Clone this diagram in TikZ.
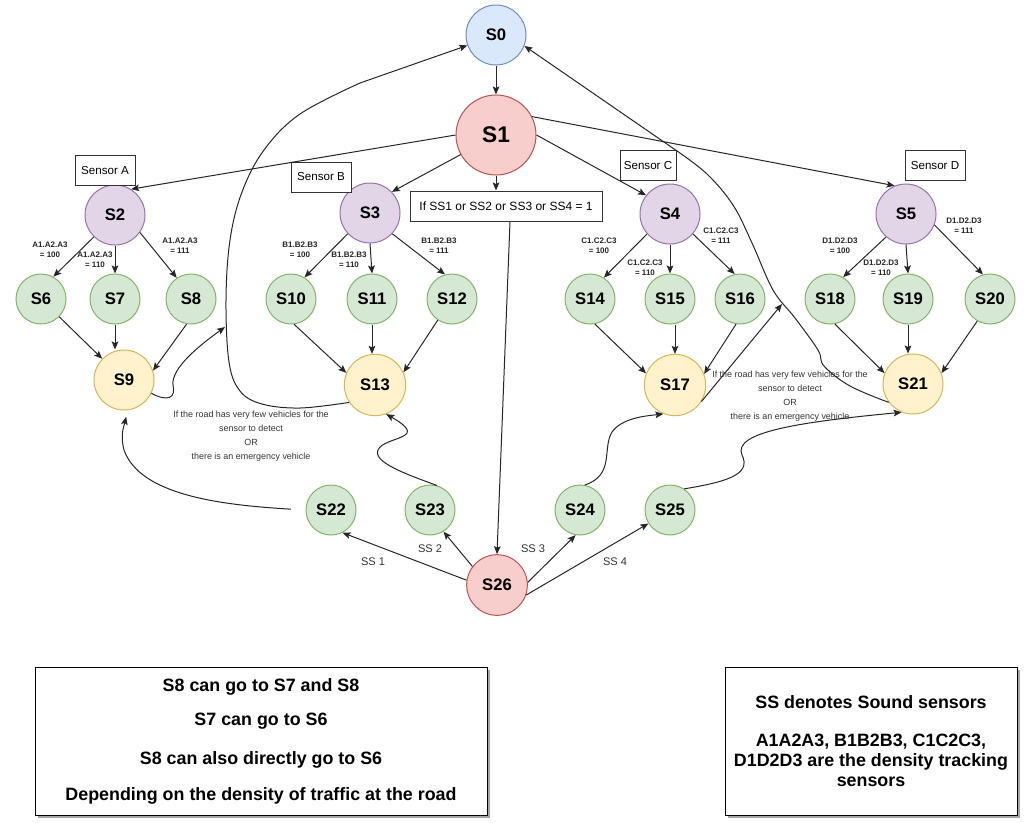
\documentclass[tikz,border=0pt]{standalone}
\usepackage{fontspec}
\setmainfont{Liberation Sans}
\usetikzlibrary{arrows.meta,shadows}
\definecolor{bF}{HTML}{DAE8FC}\definecolor{bD}{HTML}{6C8EBF}
\definecolor{rF}{HTML}{F8CECC}\definecolor{rD}{HTML}{B85450}
\definecolor{pF}{HTML}{E1D5E7}\definecolor{pD}{HTML}{9673A6}
\definecolor{gF}{HTML}{D5E8D4}\definecolor{gD}{HTML}{82B366}
\definecolor{yF}{HTML}{FFF2CC}\definecolor{yD}{HTML}{D6B656}
\tikzset{
 st/.style={circle, line width=0.75pt, inner sep=0pt, font=\bfseries\fontsize{12.5}{14}\selectfont},
 blueN/.style={st, fill=bF, draw=bD, minimum size=45pt},
 redN/.style={st, fill=rF, draw=rD},
 purN/.style={st, fill=pF, draw=pD, minimum size=45pt},
 grnN/.style={st, fill=gF, draw=gD, minimum size=37.5pt},
 yelN/.style={st, fill=yF, draw=yD, minimum size=46pt},
 sbox/.style={draw=black!80, fill=white, line width=0.75pt, inner sep=0pt, minimum height=22.5pt, font=\fontsize{8.7}{10}\selectfont},
 elab/.style={align=center, font=\bfseries\fontsize{6}{7.5}\selectfont, inner sep=0pt, text=black!85},
 sslab/.style={font=\fontsize{8.3}{10}\selectfont, inner sep=0pt, text=black!80},
 note/.style={align=center, font=\fontsize{6.7}{10.5}\selectfont, inner sep=0pt, text=black!80},
 arr/.style={-{Stealth[length=6pt,width=5pt,inset=1.2pt]}, line width=0.75pt, draw=black!85},
 bigbox/.style={draw=black, fill=white, line width=0.75pt, align=center, inner sep=0pt,
   font=\bfseries\fontsize{13.4}{15}\selectfont,
   drop shadow={shadow xshift=2.2pt, shadow yshift=-2.2pt, fill=black, opacity=0.35}}
}
\begin{document}
\begin{tikzpicture}[x=0.75pt,y=-0.75pt]
\useasboundingbox (0,0) rectangle (1030,822);
\fill[white] (0,0) rectangle (1030,822);

% states
\node[blueN] (S0) at (496,35) {S0};
\node[redN, minimum size=60pt, font=\bfseries\fontsize{17}{19}\selectfont] (S1) at (496,135) {S1};
\node[purN] (S2) at (115,215) {S2};
\node[purN] (S3) at (370,213) {S3};
\node[purN] (S4) at (670,214) {S4};
\node[purN] (S5) at (906,214) {S5};
\node[grnN] (S6) at (41,299) {S6};
\node[grnN] (S7) at (115,299) {S7};
\node[grnN] (S8) at (191,299) {S8};
\node[yelN, minimum size=45pt] (S9) at (124,380) {S9};
\node[grnN] (S10) at (291,299) {S10};
\node[grnN] (S11) at (372,299) {S11};
\node[grnN] (S12) at (452,299) {S12};
\node[yelN] (S13) at (375,385) {S13};
\node[grnN] (S14) at (590,299) {S14};
\node[grnN] (S15) at (670,299) {S15};
\node[grnN] (S16) at (740,299) {S16};
\node[yelN] (S17) at (675,385) {S17};
\node[grnN] (S18) at (830,299) {S18};
\node[grnN] (S19) at (908,299) {S19};
\node[grnN] (S20) at (990,299) {S20};
\node[yelN, minimum size=45pt] (S21) at (913,384) {S21};
\node[grnN] (S22) at (331,510) {S22};
\node[grnN] (S23) at (430,510) {S23};
\node[grnN] (S24) at (580,510) {S24};
\node[grnN] (S25) at (670,510) {S25};
\node[redN, minimum size=45.5pt] (S26) at (497,585) {S26};

% boxes
\node[sbox, minimum width=45pt] (SA) at (105,170) {Sensor A};
\node[sbox, minimum width=45pt] (SB) at (321,177) {Sensor B};
\node[sbox, minimum width=42pt] (SC) at (648,165) {Sensor C};
\node[sbox, minimum width=45pt] (SD) at (935,165) {Sensor D};
\node[sbox, minimum width=144pt, font=\fontsize{9}{11}\selectfont] (IF) at (506,206) {If SS1 or SS2 or SS3 or SS4 = 1};

% edge labels
\node[elab] (LA1) at (50,250) {A1.A2.A3\\= 100};
\node[elab] (LA2) at (95,260) {A1.A2.A3\\= 110};
\node[elab] (LA3) at (180,246) {A1.A2.A3\\= 111};
\node[elab] (LB1) at (300,250) {B1.B2.B3\\= 100};
\node[elab] (LB2) at (349,260) {B1.B2.B3\\= 110};
\node[elab] (LB3) at (439,246) {B1.B2.B3\\= 111};
\node[elab] (LC1) at (599,246) {C1.C2.C3\\= 100};
\node[elab] (LC2) at (645,268) {C1.C2.C3\\= 110};
\node[elab] (LC3) at (721,236) {C1.C2.C3\\= 111};
\node[elab] (LD1) at (840,246) {D1.D2.D3\\= 100};
\node[elab] (LD2) at (881,268) {D1.D2.D3\\= 110};
\node[elab] (LD3) at (964,226) {D1.D2.D3\\= 111};
\node[sslab] (L1) at (373,562) {SS 1};
\node[sslab] (L2) at (430,549) {SS 2};
\node[sslab] (L3) at (533,549) {SS 3};
\node[sslab] (L4) at (615,562) {SS 4};
\node[note] (N1) at (251,436) {If the road has very few vehicles for the\\sensor to detect\\OR\\there is an emergency vehicle};
\node[note] (N2) at (790,396) {If the road has very few vehicles for the\\sensor to detect\\OR\\there is an emergency vehicle};

% straight connectors
\draw[arr] (S0) -- (S1);
\draw[arr] (S1.180) -- (S2.58);
\draw[arr] (S1.209) -- (S3.44);
\draw[arr] (S1.south) -- (S1.south |- IF.north);
\draw[arr] (S1.0) -- (S4.142);
\draw[arr] (S1.27) -- (S5.112);
\draw[arr] ([xshift=3pt]IF.south) -- (S26.north);

\draw[arr] (S2.226) -- (S6.61);
\draw[arr] (S2.south) -- (S7.north);
\draw[arr] (S2.-35) -- (S8.124);
\draw[arr] (S3.223) -- (S10.58);
\draw[arr] (S3.south) -- (S11.north);
\draw[arr] (S3.-43) -- (S12.106);
\draw[arr] (S4.221) -- (S14.57);
\draw[arr] (S4.south) -- (S15.north);
\draw[arr] (S4.-41) -- (S16.102);
\draw[arr] (S5.229) -- (S18.59);
\draw[arr] (S5.south) -- (S19.north);
\draw[arr] (S5.-21) -- (S20.106);

\draw[arr] (S6) -- (S9);
\draw[arr] (S7.south) -- (S7.south |- S9.north);
\draw[arr] (S8.-100) -- (S9.18);
\draw[arr] (S10.-83) -- (S13.157);
\draw[arr] (S11.south) -- (S11.south |- S13.north);
\draw[arr] (S12.236) -- (S13.24);
\draw[arr] (S14.-79) -- (S17.158);
\draw[arr] (S17.north |- S15.south) -- (S17.north);
\draw[arr] (S16.-99) -- (S17.21);
\draw[arr] (S18.-79) -- (S21.159);
\draw[arr] (S19.south) -- (S19.south |- S21.north);
\draw[arr] (S20.240) -- (S21.21);

\draw[arr] (S26.171) -- (S22.-63);
\draw[arr] (S26.143) -- (S23.-58);
\draw[arr] (S26.5) -- (S24.-100);
\draw[arr] (S26.-19) -- (S25.212);

% curved connectors
\coordinate (e9) at (225,327);
\coordinate (e17) at (782,304);
\draw[arr] plot[smooth, tension=0.6] coordinates {(S13.214) (300,408) (262,404) (240,391) (229,362) (226,300) (230,240) (242,192) (264,150) (300,114) (360,83)} -- (S0.200);
\draw[arr] plot[smooth, tension=0.6] coordinates {(S21.217) (850,386) (824,366) (818,350) (795,318) (773,290) (752,243) (733,205) (707,174) (677,151)} -- (S0.-21);
\draw[arr] (S9.-26) .. controls (168,402) and (176,398) .. (173,385) .. controls (171,368) and (200,345) .. (e9);
\draw[arr] (S17.-32) -- (e17);
\draw[arr, shorten <=11pt, shorten >=5pt] (S22.180) .. controls (220,505) and (140,495) .. (124,450) .. controls (120,435) and (124,426) .. (S9.-83);
\draw[arr] (S23.74) .. controls (400,472) and (368,460) .. (380,447) .. controls (392,436) and (428,438) .. (S13.-69);
\draw[arr] (S24.79) .. controls (615,475) and (602,448) .. (612,432) .. controls (622,418) and (645,416) .. (S17.-112);
\draw[arr] (S25.56) .. controls (725,482) and (752,475) .. (742,455) .. controls (732,432) and (800,422) .. (S21.-112);

% notes
\node[bigbox, minimum width=339pt, minimum height=111pt] (B1) at (261,741)
 {S8 can go to S7 and S8\\[10.5pt]S7 can go to S6\\[14.25pt]S8 can also directly go to S6\\[12pt]Depending on the density of traffic at the road};
\node[bigbox, minimum width=219pt, minimum height=111pt] (B2) at (871,741)
 {SS denotes Sound sensors\\[13.5pt]A1A2A3, B1B2B3, C1C2C3,\\D1D2D3 are the density tracking\\sensors};
\end{tikzpicture}
\end{document}
